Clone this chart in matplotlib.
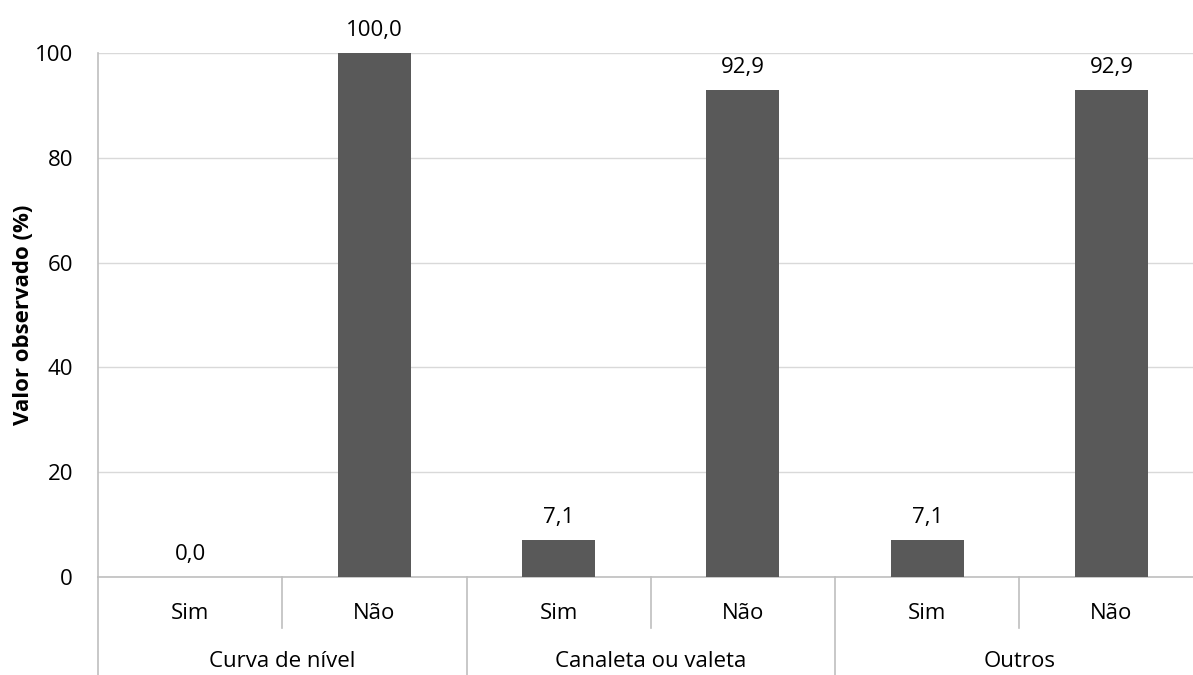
"""Bar chart: conservation practices observed (Sim / Não) per practice"""
import matplotlib
matplotlib.use("Agg")
import matplotlib.pyplot as plt
from matplotlib.transforms import blended_transform_factory

# data
groups = ["Curva de nível", "Canaleta ou valeta", "Outros"]
answers = ["Sim", "Não"]
values = [0.0, 100.0, 7.1, 92.9, 7.1, 92.9]
y_ticks = [0, 20, 40, 60, 80, 100]

plt.rcParams['font.family'] = ['Open Sans', 'DejaVu Sans']
axis_gray = "#bfbfbf"
bar_color = "#595959"
fs = 16

fig = plt.figure(figsize=(11.93, 6.75), dpi=100)
# plot area runs slightly past the right edge of the picture
ax = fig.add_axes([0.0822, 0.1452, 0.9267, 0.7763])

x = list(range(len(values)))
ax.bar(x, values, width=0.396, color=bar_color, zorder=3)

# value labels
for xi, v in zip(x, values):
    ax.annotate(f"{v:.1f}".replace(".", ","), (xi, v), xytext=(0, 12.2),
                textcoords="offset points", ha="center", va="baseline",
                fontsize=fs, color="black", annotation_clip=False)

ax.set_xlim(-0.5, len(values) - 0.5)
ax.set_ylim(0, 100)
ax.set_yticks(y_ticks)
ax.tick_params(axis="y", length=0, labelsize=fs, pad=18)
ax.set_xticks([])
ax.yaxis.grid(True, color="#d9d9d9", linewidth=1, zorder=0)
ax.set_axisbelow(True)
for side in ["top", "right"]:
    ax.spines[side].set_visible(False)
for side in ["left", "bottom"]:
    ax.spines[side].set_color(axis_gray)
    ax.spines[side].set_linewidth(1.2)

ax.set_ylabel("Valor observado (%)", fontsize=fs, fontweight="bold")
ax.yaxis.set_label_coords(-0.058, 0.5)

# two-level category axis
trans = blended_transform_factory(ax.transData, ax.transAxes)
n_ans = len(answers)
for i in range(len(values)):
    ax.text(i, -0.0706, answers[i % n_ans], transform=trans,
            ha="center", va="center", fontsize=fs)
for g, name in enumerate(groups):
    ax.text(g * n_ans + (n_ans - 1) / 2, -0.162, name, transform=trans,
            ha="center", va="center", fontsize=fs)

for i in range(len(values)):
    left = i - 0.5
    if i % n_ans == 0:
        ax.plot([left, left], [0, -0.19], transform=trans, color=axis_gray,
                linewidth=1.2, clip_on=False)
    else:
        ax.plot([left, left], [0, -0.097], transform=trans, color=axis_gray,
                linewidth=1.2, clip_on=False)

fig.savefig("out.png", dpi=100)
